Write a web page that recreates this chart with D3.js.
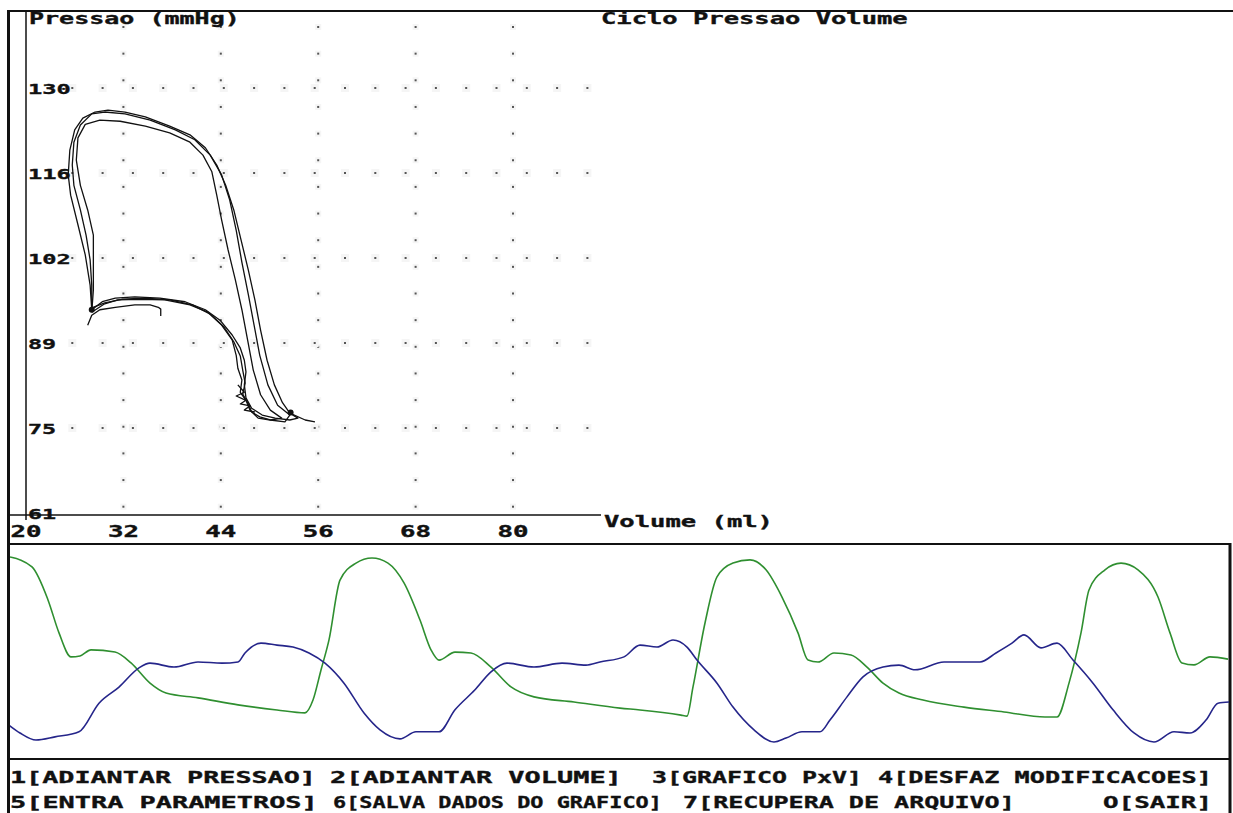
<!DOCTYPE html>
<html>
<head>
<meta charset="utf-8">
<script src="https://cdn.jsdelivr.net/npm/d3@7"></script>
<style>
  body { margin: 0; background: #fff; }
  svg { display: block; }
  text { font-family: "DejaVu Sans Mono", monospace; font-weight: bold; fill: #111; stroke: #111; stroke-width: 0.35px; }
</style>
</head>
<body>
<svg id="chart" width="1233" height="813"></svg>
<script>
// ---------- data ----------
const volumeTicks = [20, 32, 44, 56, 68, 80];                 // ml
const pressureTicks = [61, 74.8, 88.6, 102.4, 116.2, 130];    // mmHg, shown rounded

// Pressure-volume cycles: [volume ml, pressure mmHg]
const cycle1 = [
  [28.1, 94.0], [27.9, 98.0], [27.3, 102.9], [26.4, 107.8], [25.5, 112.6], [25.2, 115.9],
  [25.4, 119.9], [26.0, 123.2], [27.0, 125.1], [28.5, 126.1], [30.1, 126.4], [32.2, 126.1],
  [34.7, 125.3], [37.7, 123.8], [40.2, 122.4], [42.1, 120.3], [43.5, 117.5], [44.6, 114.2],
  [45.6, 110.2], [46.5, 105.3], [47.4, 100.4], [48.2, 95.6], [48.9, 90.7], [49.7, 85.8],
  [50.6, 81.8], [51.6, 78.9], [52.5, 77.2], [53.5, 76.4], [52.5, 76.1], [50.7, 76.4],
  [49.1, 76.9], [47.8, 78.0], [47.1, 79.7], [46.9, 81.8], [47.1, 83.9], [46.9, 85.8],
  [46.4, 87.8], [45.4, 89.9], [43.9, 92.3], [42.1, 94.0], [39.6, 95.3], [36.5, 95.9],
  [33.4, 96.1], [31.0, 95.9], [29.4, 95.3], [28.1, 94.0]
];
const cycle2 = [
  [28.1, 93.6], [28.3, 97.2], [28.3, 102.1], [28.3, 106.1], [27.6, 110.2], [26.7, 114.2],
  [26.2, 118.3], [26.4, 121.9], [27.3, 124.1], [29.1, 124.8], [31.6, 124.6], [34.7, 123.8],
  [37.7, 122.7], [40.2, 121.2], [41.8, 119.1], [42.9, 116.4], [43.5, 112.6], [44.1, 108.6],
  [44.9, 103.7], [45.8, 98.8], [46.6, 94.0], [47.3, 89.1], [48.0, 84.2], [48.9, 80.2],
  [50.1, 77.7], [51.5, 76.4], [50.1, 76.1], [48.6, 76.4], [47.6, 77.7], [47.1, 79.3],
  [46.4, 80.6], [46.6, 82.6], [46.1, 84.5], [45.9, 86.6], [45.4, 89.1], [44.1, 91.5],
  [42.4, 93.6], [40.2, 94.8], [37.1, 95.6], [34.0, 95.7], [31.3, 95.6], [29.6, 94.9],
  [28.1, 93.6]
];
const cycle3 = [
  [28.1, 94.3], [28.1, 98.0], [27.9, 102.1], [27.4, 106.1], [26.7, 110.2], [25.9, 114.2],
  [25.7, 117.5], [25.9, 121.2], [26.7, 124.0], [28.1, 125.8], [29.7, 126.1], [32.2, 125.8],
  [35.3, 124.8], [38.4, 123.2], [40.8, 121.6], [42.7, 119.1], [44.1, 115.9], [45.1, 111.8],
  [45.9, 106.9], [46.6, 101.7], [47.4, 96.4], [48.1, 91.5], [48.8, 86.6], [49.8, 81.8],
  [51.0, 78.5], [52.5, 76.9], [51.9, 75.8], [50.1, 76.1], [48.8, 76.6], [47.8, 77.4],
  [47.4, 78.7], [46.7, 80.3], [47.0, 82.1], [46.7, 84.2], [46.4, 86.5], [45.6, 88.8],
  [44.4, 91.2], [42.7, 93.3], [40.5, 94.8], [37.7, 95.6], [34.7, 95.9], [31.8, 95.7],
  [29.7, 95.1], [28.1, 94.3]
];
const traceStart = [
  [27.6, 91.5], [28.1, 93.1], [29.1, 94.0], [31.0, 94.4], [33.4, 94.8], [35.3, 94.8],
  [36.3, 94.4], [36.6, 94.1], [36.6, 93.0]
];
const traceTail = [[52.5, 77.2], [54.4, 76.1], [55.6, 75.8]];
const traceNoise = [
  [46.1, 81.8], [46.9, 80.6], [45.9, 80.0], [47.1, 79.3], [46.4, 78.7], [47.6, 78.4],
  [46.9, 77.7], [48.2, 77.4]
];
const cycleMarks = [[28.1, 94.0], [52.6, 77.3]];

// Time signals (sample index, value)
const pressureSignal = [
  [1, 126.3], [23, 123.2], [39, 112.9], [50, 102.6], [62, 95.1], [71, 95.4], [82, 97.3],
  [106, 96.6], [122, 93.2], [141, 86.9], [157, 83.8], [189, 82.3], [229, 80.1], [268, 78.5],
  [296, 77.6], [304, 81.6], [312, 91.0], [320, 100.4], [331, 119.1], [347, 124.4], [363, 126.0],
  [379, 124.4], [395, 118.2], [411, 106.6], [422, 97.3], [430, 94.1], [446, 96.6], [462, 96.3],
  [482, 91.9], [502, 85.7], [525, 82.6], [565, 81.0], [611, 79.1], [631, 78.5], [672, 76.9],
  [678, 76.6], [684, 85.7], [696, 105.7], [708, 120.1], [724, 124.4], [741, 125.4], [757, 122.3],
  [773, 113.8], [789, 102.6], [799, 94.1], [809, 93.5], [825, 96.3], [842, 95.7], [858, 91.9],
  [874, 86.9], [890, 83.8], [914, 81.6], [955, 79.4], [995, 77.9], [1036, 76.3], [1048, 76.3],
  [1060, 86.9], [1072, 102.6], [1080, 116.0], [1096, 122.3], [1112, 124.4], [1129, 122.3],
  [1149, 113.8], [1161, 102.6], [1173, 93.2], [1185, 92.6], [1201, 95.1], [1219, 94.4]
];
const volumeSignal = [
  [0, 30.3], [11, 28.3], [27, 26.5], [46, 27.3], [70, 28.6], [90, 35.9], [110, 40.0],
  [130, 44.9], [141, 46.1], [165, 45.1], [189, 46.4], [213, 46.1], [229, 46.4], [236, 48.7],
  [252, 51.2], [268, 50.7], [284, 50.2], [300, 48.7], [316, 46.1], [335, 41.0], [355, 33.4],
  [371, 29.1], [391, 26.8], [407, 28.6], [430, 28.6], [446, 34.2], [466, 39.3], [482, 43.9],
  [498, 46.1], [525, 45.1], [553, 46.1], [577, 45.6], [591, 46.4], [615, 47.7], [631, 50.7],
  [648, 50.2], [664, 52.0], [678, 50.2], [688, 46.9], [708, 41.0], [724, 34.9], [745, 29.1],
  [765, 26.0], [777, 27.0], [793, 28.6], [811, 28.6], [821, 31.6], [838, 37.5], [854, 42.6],
  [874, 45.1], [890, 45.6], [906, 44.4], [935, 46.4], [971, 46.4], [987, 48.7], [1003, 51.2],
  [1015, 53.3], [1032, 50.0], [1048, 51.2], [1064, 46.9], [1084, 41.0], [1104, 34.2],
  [1125, 28.3], [1145, 26.0], [1165, 28.6], [1181, 28.3], [1197, 31.6], [1209, 35.9], [1220, 36.2]
];

const titleText = "Ciclo Pressao Volume";
const yAxisTitle = "Pressao (mmHg)";
const xAxisTitle = "Volume (ml)";
const menuRow1 = ["1[ADIANTAR PRESSAO]", "2[ADIANTAR VOLUME]", "3[GRAFICO PxV]", "4[DESFAZ MODIFICACOES]"];
const menuRow2 = ["5[ENTRA PARAMETROS]", "6[SALVA DADOS DO GRAFICO]", "7[RECUPERA DE ARQUIVO]", "O[SAIR]"];

// ---------- layout ----------
const svg = d3.select("#chart");
const ink = "#111";
const menuSpans1 = [[10, 316], [330, 622], [652, 862], [878, 1212]];
const menuSpans2 = [[10, 318], [333, 662], [683, 1015], [1103, 1212]];

const x = d3.scaleLinear().domain([20, 80]).range([26, 513]);
const y = d3.scaleLinear().domain([61, 130]).range([513, 88]);

const xT = d3.scaleLinear().domain([0, 1220]).range([9, 1229]);
const yP = d3.scaleLinear().domain([76, 126]).range([718, 558]);
const yV = d3.scaleLinear().domain([26, 52]).range([742, 640]);

// wide bitmap-style text: glyphs stretched horizontally to fill the given width
function wideText(str, x0, yb, width, size, anchor) {
  const t = svg.append("text").attr("font-size", size).text(str);
  const w = t.node().getComputedTextLength();
  const left = anchor === "middle" ? x0 - width / 2 : x0;
  t.attr("transform", `translate(${left},${yb}) scale(${width / w},1)`);
  return t;
}

// ---------- dotted grid ----------
const grid = svg.append("g");
const colDotsY = d3.range(27, 510, 26.65);
volumeTicks.slice(1).forEach(v => {
  colDotsY.forEach(yy => {
    grid.append("rect").attr("x", x(v) - 3).attr("y", yy - 3).attr("width", 6).attr("height", 6).attr("fill", "#f5f5f5");
    grid.append("rect").attr("x", x(v) - 1).attr("y", yy - 1).attr("width", 2).attr("height", 2).attr("fill", "#555");
  });
});
const rowDotsX = d3.range(42, 600, 30.3);
pressureTicks.slice(1).forEach(p => {
  const lab = d3.format(".0f")(p);
  const labelEnd = 28 + lab.length * 14.6;
  rowDotsX.filter(xx => xx > labelEnd).forEach(xx => {
    grid.append("rect").attr("x", xx - 4).attr("y", y(p) - 4).attr("width", 8).attr("height", 8).attr("fill", "#f5f5f5");
    grid.append("rect").attr("x", xx - 1).attr("y", y(p) - 1).attr("width", 2).attr("height", 2).attr("fill", "#555");
  });
});

// ---------- frame and axes ----------
svg.append("line").attr("x1", 8).attr("x2", 1233).attr("y1", 11).attr("y2", 11).attr("stroke", ink).attr("stroke-width", 2);
svg.append("line").attr("x1", 8.5).attr("x2", 8.5).attr("y1", 10).attr("y2", 813).attr("stroke", ink).attr("stroke-width", 3);
svg.append("line").attr("x1", 26).attr("x2", 26).attr("y1", 11).attr("y2", 520).attr("stroke", ink).attr("stroke-width", 1.5);
svg.append("line").attr("x1", 8).attr("x2", 601).attr("y1", y(61) + 2).attr("y2", y(61) + 2).attr("stroke", ink).attr("stroke-width", 1.5);
svg.append("line").attr("x1", 8).attr("x2", 1231).attr("y1", 544).attr("y2", 544).attr("stroke", ink).attr("stroke-width", 2);
svg.append("line").attr("x1", 8).attr("x2", 1231).attr("y1", 759).attr("y2", 759).attr("stroke", ink).attr("stroke-width", 2);
svg.append("line").attr("x1", 1230).attr("x2", 1230).attr("y1", 543).attr("y2", 813).attr("stroke", ink).attr("stroke-width", 3);

// tick labels
pressureTicks.forEach(p => {
  const lab = d3.format(".0f")(p);
  wideText(lab, 28, y(p) + 5.5, lab.length * 14.6 - 1, 14.5);
});
volumeTicks.forEach(v => {
  const lab = String(v);
  wideText(lab, x(v), 537, lab.length * 15.5, 15, "middle");
});

// titles
wideText(yAxisTitle, 29, 24, 211, 15.5);
wideText(titleText, 601, 24, 307, 15.5);
wideText(xAxisTitle, 604, 527, 169, 15.5);

// ---------- pressure-volume loops ----------
const pv = d3.line().x(d => x(d[0])).y(d => y(d[1]));
const loops = svg.append("g").attr("fill", "none").attr("stroke", ink).attr("stroke-width", 1.3).attr("stroke-linejoin", "round");
[cycle1, cycle2, cycle3, traceStart, traceTail, traceNoise].forEach(c => loops.append("path").attr("d", pv(c)));
svg.append("g").selectAll("circle").data(cycleMarks).join("circle")
  .attr("cx", d => x(d[0])).attr("cy", d => y(d[1])).attr("r", 3).attr("fill", ink);

// ---------- time signals ----------
svg.append("clipPath").attr("id", "panelClip").append("rect").attr("x", 10).attr("y", 545).attr("width", 1219).attr("height", 213);
const sig = svg.append("g").attr("clip-path", "url(#panelClip)").attr("fill", "none").attr("stroke-width", 1.6);
sig.append("path")
  .attr("d", d3.line().curve(d3.curveMonotoneX).x(d => xT(d[0])).y(d => yP(d[1]))(pressureSignal))
  .attr("stroke", "#2f8f30");
sig.append("path")
  .attr("d", d3.line().curve(d3.curveMonotoneX).x(d => xT(d[0])).y(d => yV(d[1]))(volumeSignal))
  .attr("stroke", "#25258a");

// ---------- menu ----------
menuRow1.forEach((s, i) => wideText(s, menuSpans1[i][0], 783, menuSpans1[i][1] - menuSpans1[i][0], 16.5));
menuRow2.forEach((s, i) => wideText(s, menuSpans2[i][0], 808, menuSpans2[i][1] - menuSpans2[i][0], 16.5));
</script>
</body>
</html>
